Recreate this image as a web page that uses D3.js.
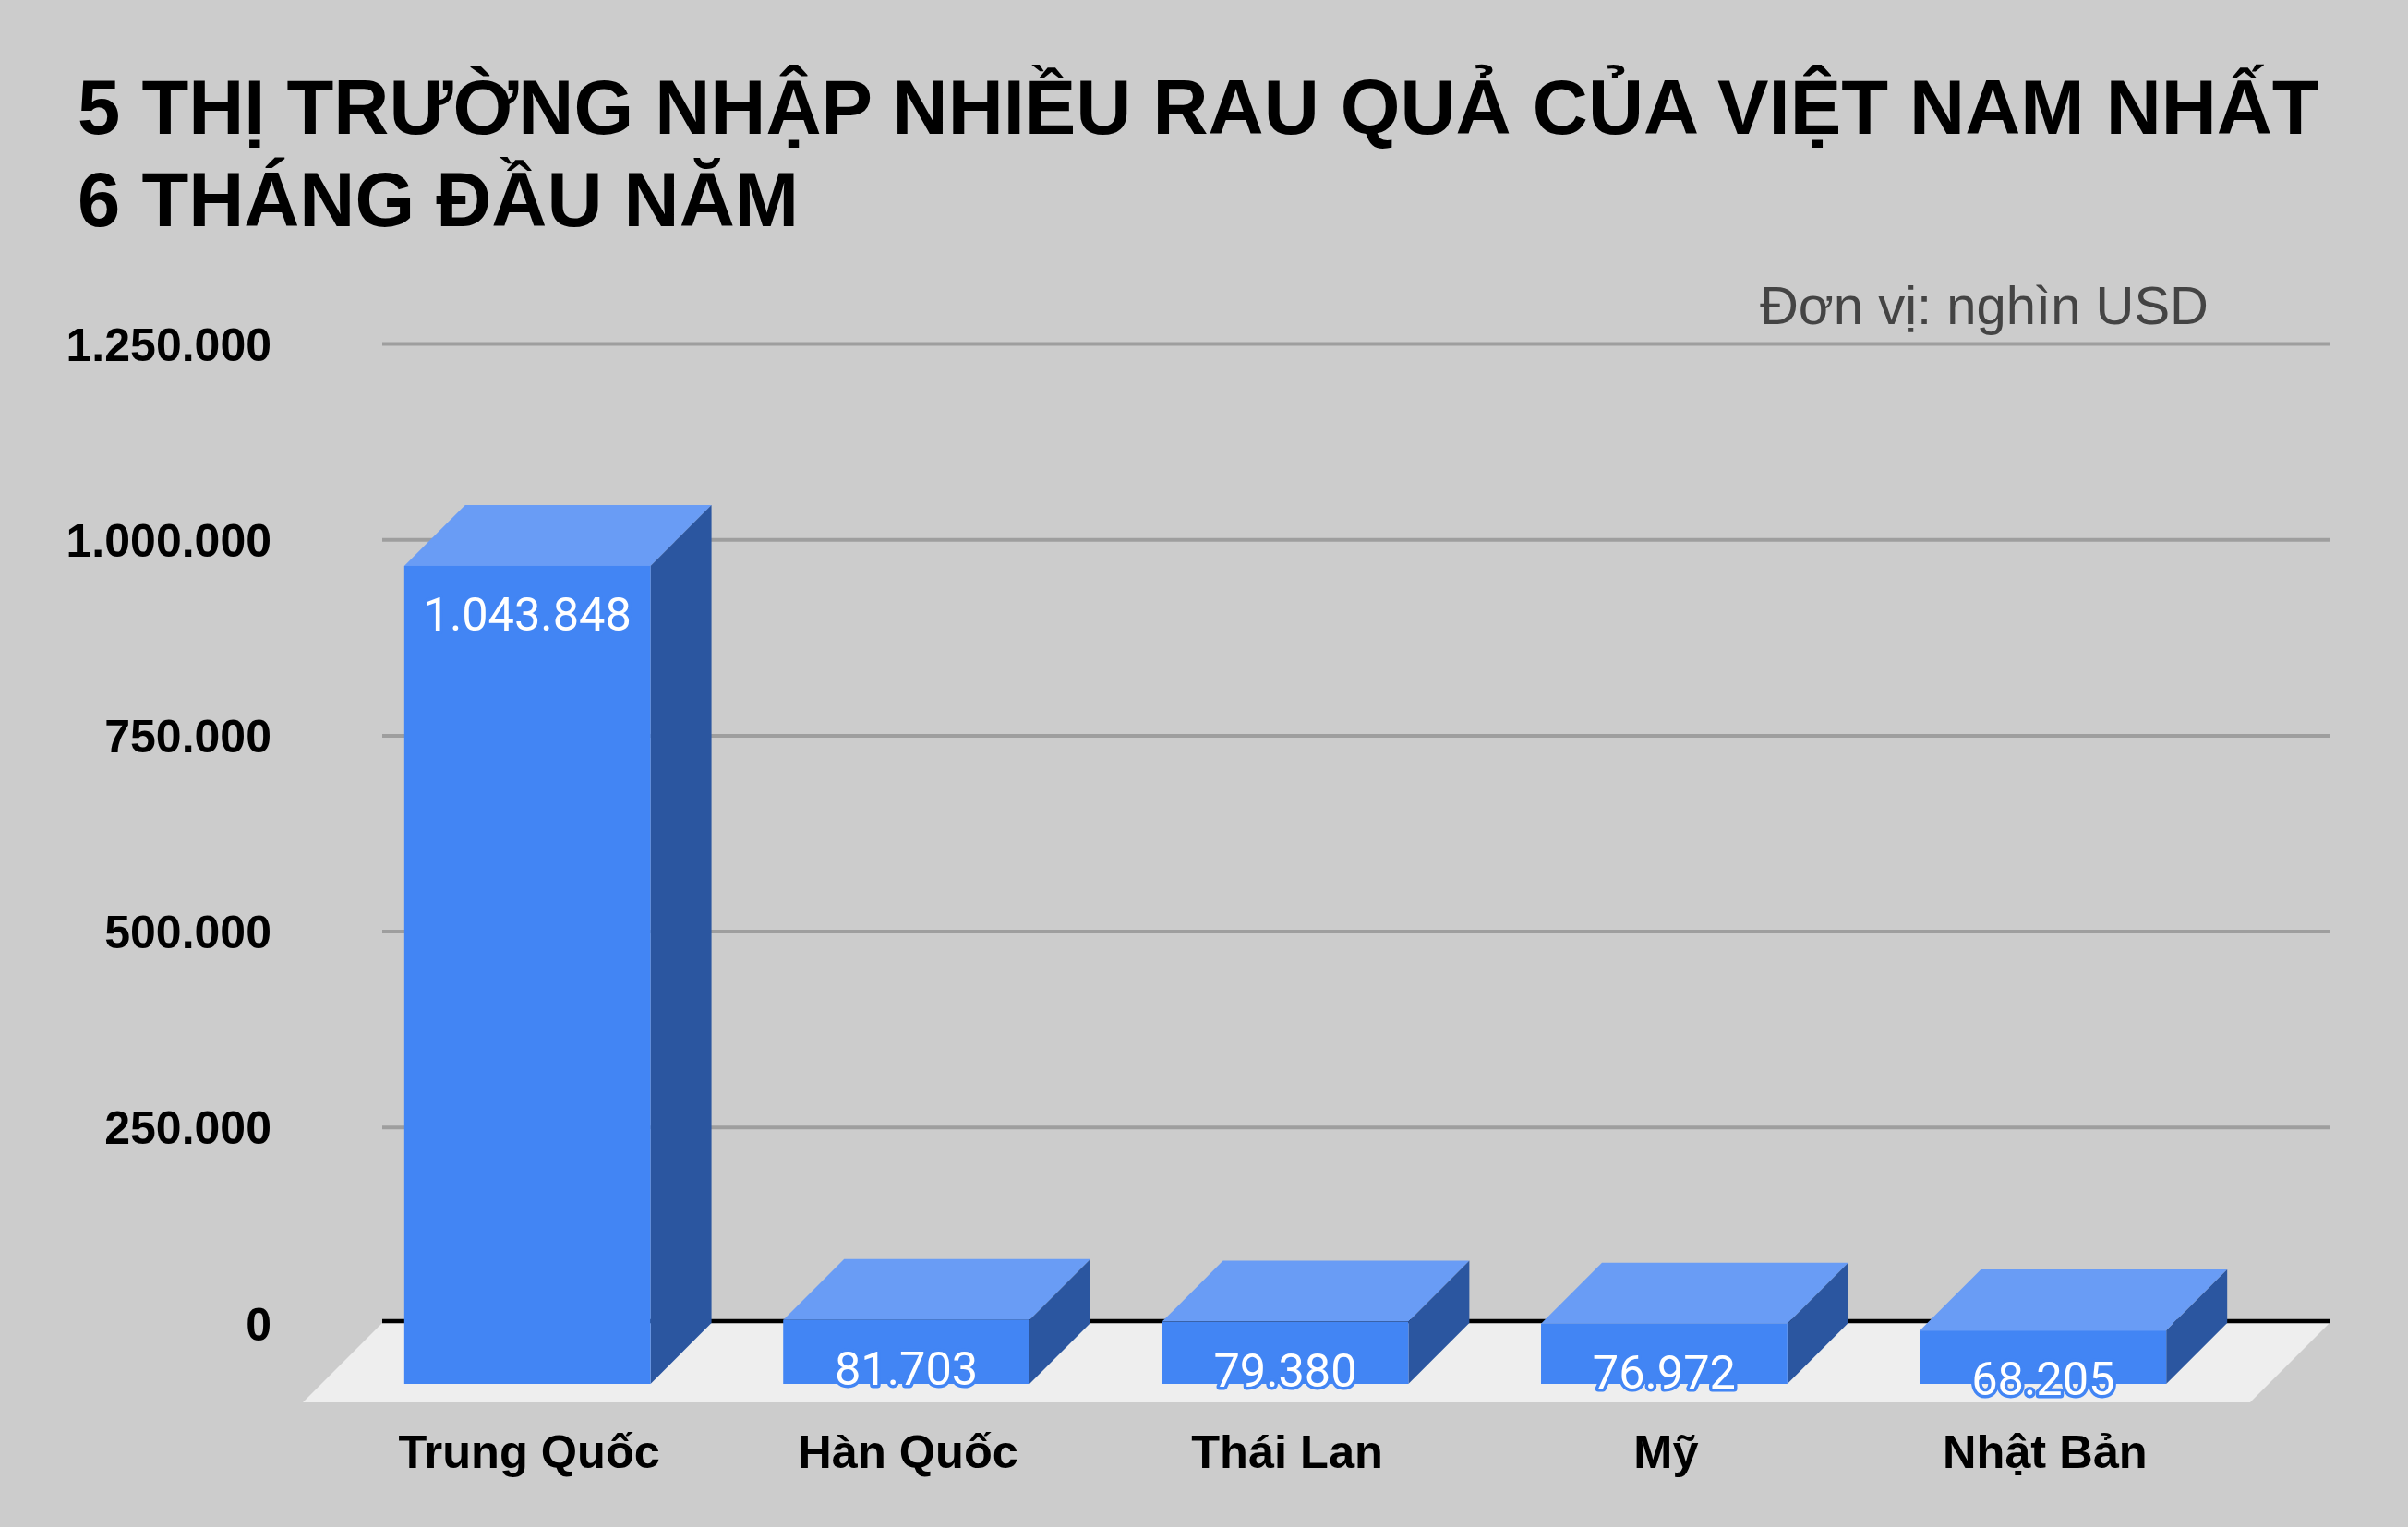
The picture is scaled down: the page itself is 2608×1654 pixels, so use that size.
<!DOCTYPE html>
<html>
<head>
<meta charset="utf-8">
<script src="https://cdn.jsdelivr.net/npm/d3@7"></script>
<style>
  html, body { margin: 0; padding: 0; background: #cccccc; }
  svg { display: block; }
</style>
</head>
<body>
<div id="chart"></div>
<script>
// data
var categories = ["Trung Quốc", "Hàn Quốc", "Thái Lan", "Mỹ", "Nhật Bản"];
var values = [1043848, 81703, 79380, 76972, 68205];
var yTicks = [0, 250000, 500000, 750000, 1000000, 1250000];
var titleLines = ["5 THỊ TRƯỜNG NHẬP NHIỀU RAU QUẢ CỦA VIỆT NAM NHẤT", "6 THÁNG ĐẦU NĂM"];
var unitLabel = "Đơn vị: nghìn USD";

var width = 2608, height = 1654
  , plot = {left: 414, right: 2523, top: 372, bottom: 1433}   // back wall of the 3d box
  , depth = 66        // bar depth (px, 45 degrees)
  , floorDepth = 86
  , colors = {front: "#4285f4", top: "#699cf5", side: "#2b56a0"}
  , boldFont = "'Liberation Sans', Arial, sans-serif"
  ;

var vi = d3.formatLocale({decimal: ",", thousands: ".", grouping: [3], currency: ["", ""]});
var fmt = vi.format(",d");

var svg = d3.select("#chart").append("svg")
    .attr("width", width)
    .attr("height", height);

svg.append("rect").attr("width", width).attr("height", height).attr("fill", "#cccccc");

// title
svg.append("text")
    .attr("font-family", boldFont)
    .attr("font-weight", "bold")
    .attr("font-size", 83.2)
    .attr("fill", "#000")
  .selectAll("tspan")
  .data(titleLines)
  .enter().append("tspan")
    .attr("x", 84)
    .attr("y", function (d, i) { return 145 + i * 100; })
    .text(function (d) { return d; });

// scales
var y = d3.scaleLinear().domain([0, 1250000]).range([plot.bottom, plot.top]);
var x = d3.scaleBand().domain(categories)
    .range([plot.left + 18 - depth, plot.left + 2070 - depth])   // front plane of the bars
    .paddingInner(0.35).paddingOuter(0.175);

// gridlines
var grid = svg.append("g")
    .attr("transform", "translate(" + plot.left + ",0)")
    .call(d3.axisRight(y).tickValues(yTicks.slice(1)).tickSize(plot.right - plot.left).tickFormat(""));
grid.select(".domain").remove();
grid.selectAll(".tick line").attr("stroke", "#9e9e9e").attr("stroke-width", 4);

// y labels
var yAxis = svg.append("g")
    .attr("transform", "translate(294,0)")
    .call(d3.axisLeft(y).tickValues(yTicks).tickSize(0).tickPadding(0).tickFormat(fmt));
yAxis.select(".domain").remove();
yAxis.selectAll("text")
    .attr("font-family", boldFont)
    .attr("font-weight", "bold")
    .attr("font-size", 50)
    .attr("fill", "#000")
    .attr("dy", "0.36em");

// floor
var y0 = y(0);
svg.append("path")
    .attr("d", "M" + plot.left + "," + y0 +
               "L" + plot.right + "," + y0 +
               "L" + (plot.right - floorDepth) + "," + (y0 + floorDepth) +
               "L" + (plot.left - floorDepth) + "," + (y0 + floorDepth) + "Z")
    .attr("fill", "#eeeeee");

// zero line
svg.append("line")
    .attr("x1", plot.left).attr("x2", plot.right)
    .attr("y1", y0 - 2).attr("y2", y0 - 2)
    .attr("stroke", "#000").attr("stroke-width", 4.5);

// bars
var bars = svg.selectAll("g.bar")
    .data(categories.map(function (c, i) { return {key: c, value: values[i]}; }))
    .enter().append("g").attr("class", "bar");

var bw = x.bandwidth();

function topFace(d) {
    var x0 = x(d.key), yt = y(d.value) + depth;
    return "M" + x0 + "," + yt + "L" + (x0 + depth) + "," + (yt - depth) +
           "L" + (x0 + bw + depth) + "," + (yt - depth) + "L" + (x0 + bw) + "," + yt + "Z";
}
function sideFace(d) {
    var x0 = x(d.key) + bw, yt = y(d.value) + depth, yb = y0 + depth;
    return "M" + x0 + "," + yt + "L" + (x0 + depth) + "," + (yt - depth) +
           "L" + (x0 + depth) + "," + (yb - depth) + "L" + x0 + "," + yb + "Z";
}

bars.append("path").attr("d", topFace).attr("fill", colors.top);
bars.append("path").attr("d", sideFace).attr("fill", colors.side);
bars.append("rect")
    .attr("x", function (d) { return x(d.key); })
    .attr("y", function (d) { return y(d.value) + depth; })
    .attr("width", bw)
    .attr("height", function (d) { return y0 - y(d.value); })
    .attr("fill", colors.front);

// value labels
bars.append("text")
    .attr("x", function (d) { return x(d.key) + bw / 2; })
    .attr("y", function (d) { return y(d.value) + depth + 70; })
    .attr("text-anchor", "middle")
    .attr("font-family", "Roboto, sans-serif")
    .attr("font-size", 50.5)
    .attr("fill", "#fff")
    .attr("stroke", colors.front)
    .attr("stroke-width", 7)
    .attr("stroke-linejoin", "round")
    .attr("paint-order", "stroke")
    .text(function (d) { return fmt(d.value); });

// category labels
svg.append("g").selectAll("text")
    .data(categories)
    .enter().append("text")
    .attr("x", function (d) { return x(d) + bw / 2 + 2; })
    .attr("y", 1590)
    .attr("text-anchor", "middle")
    .attr("font-family", boldFont)
    .attr("font-weight", "bold")
    .attr("font-size", 50.5)
    .attr("fill", "#000")
    .text(function (d) { return d; });

// unit
svg.append("text")
    .attr("x", 2392)
    .attr("y", 351)
    .attr("text-anchor", "end")
    .attr("font-family", "'Liberation Sans', Arial, sans-serif")
    .attr("font-size", 58)
    .attr("fill", "#444444")
    .text(unitLabel);
</script>
</body>
</html>
